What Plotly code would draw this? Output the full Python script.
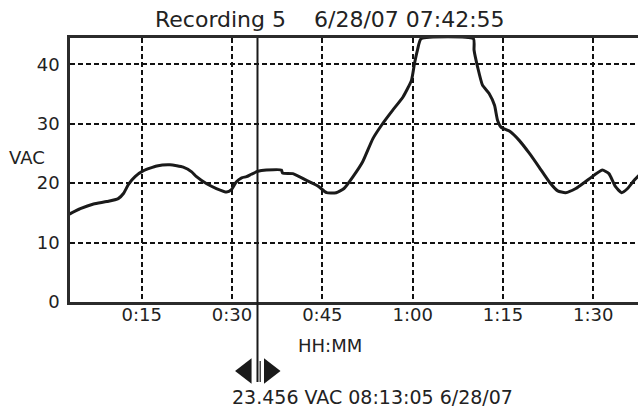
import plotly.graph_objects as go

# ---- data (minutes from start, VAC) ----
minutes = [3.0, 4.8, 7.0, 9.2, 11.1, 12.0, 12.8, 13.9, 15.3, 17.5, 19.7, 21.9, 23.3, 24.1,
           25.8, 27.4, 29.1, 29.9, 30.7, 31.6, 32.4, 33.2, 34.3, 35.7, 38.2, 38.4, 40.1,
           42.3, 44.3, 45.7, 47.3, 48.6, 50.1, 51.7, 53.4, 55.0, 56.7, 58.4, 59.8, 60.3,
           60.8, 61.4, 70.1, 70.2, 70.8, 71.6, 72.7, 73.6, 74.1, 74.7, 76.0, 77.7, 79.4,
           81.0, 82.7, 84.1, 85.4, 87.1, 89.3, 91.5, 92.6, 93.7, 94.7, 95.7, 96.8, 97.6]
vac = [14.8, 15.7, 16.5, 16.9, 17.4, 18.3, 19.8, 21.1, 22.1, 22.9, 23.1, 22.7, 21.9, 21.1,
       19.9, 19.1, 18.5, 18.9, 20.2, 20.9, 21.1, 21.5, 22.0, 22.2, 22.2, 21.7, 21.6,
       20.5, 19.5, 18.4, 18.4, 19.1, 21.1, 23.6, 27.5, 30.0, 32.3, 34.5, 37.3, 40.1,
       42.4, 44.3, 44.3, 42.4, 39.5, 36.5, 35.1, 33.1, 30.6, 29.4, 28.8, 27.2, 25.0,
       22.7, 20.2, 18.7, 18.4, 19.1, 20.7, 22.2, 21.6, 19.4, 18.4, 19.1, 20.5, 21.3]

x_tick_vals = [15, 30, 45, 60, 75, 90]
x_tick_text = ["0:15", "0:30", "0:45", "1:00", "1:15", "1:30"]
y_tick_vals = [0, 10, 20, 30, 40]

x_range = [3.09, 97.43]
y_range = [0, 44.43]

cursor_time = 34.23
cursor_text = "23.456 VAC 08:13:05 6/28/07"
title_text = "Recording 5\u00a0\u00a0\u00a0\u00a06/28/07 07:42:55"
y_label = "VAC"
x_label = "HH:MM"

FONT = "DejaVu Sans"
INK = "#1a1a1a"
TXT = "#222"

# layout geometry (pixels)
W, H = 638, 411
ML, MR, MT, MB = 70, 0, 38, 0
PLOT_BOTTOM = 302
pw, ph = W - ML - MR, H - MT - MB


def px_x(px):
    return (px - ML) / pw


def px_y(py):
    return (H - MB - py) / ph


main_bottom = px_y(PLOT_BOTTOM)
px_per_unit = (PLOT_BOTTOM - MT) / (y_range[1] - y_range[0])
lower_range = [-(H - MB - PLOT_BOTTOM) / px_per_unit, 0]

fig = go.Figure()

fig.add_trace(go.Scatter(
    x=minutes, y=vac, mode="lines",
    line=dict(color=INK, width=3, shape="spline", smoothing=0.5),
    hoverinfo="skip", showlegend=False,
))

# cursor handles (triangles) below the axis, in a hidden lower subplot
handle_y = -11.6
fig.add_trace(go.Scatter(
    x=[cursor_time - 1.9, cursor_time + 2.0], y=[handle_y, handle_y],
    xaxis="x2", yaxis="y2", mode="markers",
    marker=dict(symbol=["triangle-left", "triangle-right"], size=22, color=INK,
                line=dict(width=0)),
    cliponaxis=False, hoverinfo="skip", showlegend=False,
))

shapes = [
    dict(type="line", xref="x", yref="paper", x0=cursor_time, x1=cursor_time,
         y0=px_y(382), y1=1, line=dict(color=INK, width=2)),
    dict(type="line", xref="x", yref="paper", x0=cursor_time + 0.45, x1=cursor_time + 0.45,
         y0=px_y(361), y1=px_y(382), line=dict(color=INK, width=1.2)),
]

annotations = [
    dict(text=title_text, xref="paper", yref="paper", x=px_x(330), y=px_y(20),
         xanchor="center", yanchor="middle", showarrow=False,
         font=dict(family=FONT, size=22, color=TXT)),
    dict(text=y_label, xref="paper", yref="paper", x=px_x(26.7), y=px_y(157.7),
         xanchor="center", yanchor="middle", showarrow=False,
         font=dict(family=FONT, size=18, color=TXT)),
    dict(text=x_label, xref="paper", yref="paper", x=px_x(330), y=px_y(345),
         xanchor="center", yanchor="middle", showarrow=False,
         font=dict(family=FONT, size=18, color=TXT)),
    dict(text=cursor_text, xref="paper", yref="paper", x=px_x(372.5), y=px_y(396.7),
         xanchor="center", yanchor="middle", showarrow=False,
         font=dict(family=FONT, size=19, color=TXT)),
]

fig.update_layout(
    width=W, height=H, autosize=False,
    margin=dict(l=ML, r=MR, t=MT, b=MB, pad=0, autoexpand=False),
    paper_bgcolor="white", plot_bgcolor="white",
    shapes=shapes, annotations=annotations,
    font=dict(family=FONT, size=18, color=TXT),
    xaxis=dict(
        range=x_range, tickvals=x_tick_vals, ticktext=x_tick_text, anchor="y",
        showgrid=True, gridcolor="#111", gridwidth=1.6, griddash="5px,3px",
        showline=True, linecolor="#2b2b2b", linewidth=2.5, mirror=True,
        ticks="", zeroline=False, fixedrange=True, ticklabelstandoff=-5,
        automargin=False,
        tickfont=dict(family=FONT, size=18, color=TXT),
    ),
    yaxis=dict(
        range=y_range, tickvals=y_tick_vals, domain=[main_bottom, 1],
        showgrid=True, gridcolor="#111", gridwidth=1.6, griddash="5px,3px",
        showline=True, linecolor="#2b2b2b", linewidth=2.5,
        ticks="", zeroline=False, fixedrange=True, ticklabelstandoff=4,
        automargin=False,
        tickfont=dict(family=FONT, size=18, color=TXT),
    ),
    xaxis2=dict(range=x_range, anchor="y2", visible=False, fixedrange=True,
                automargin=False),
    yaxis2=dict(range=lower_range, domain=[0, main_bottom], visible=False,
                fixedrange=True, automargin=False),
)

fig.write_html("out.html", config={"displayModeBar": False},
               post_script="document.body.style.margin='0px';")
